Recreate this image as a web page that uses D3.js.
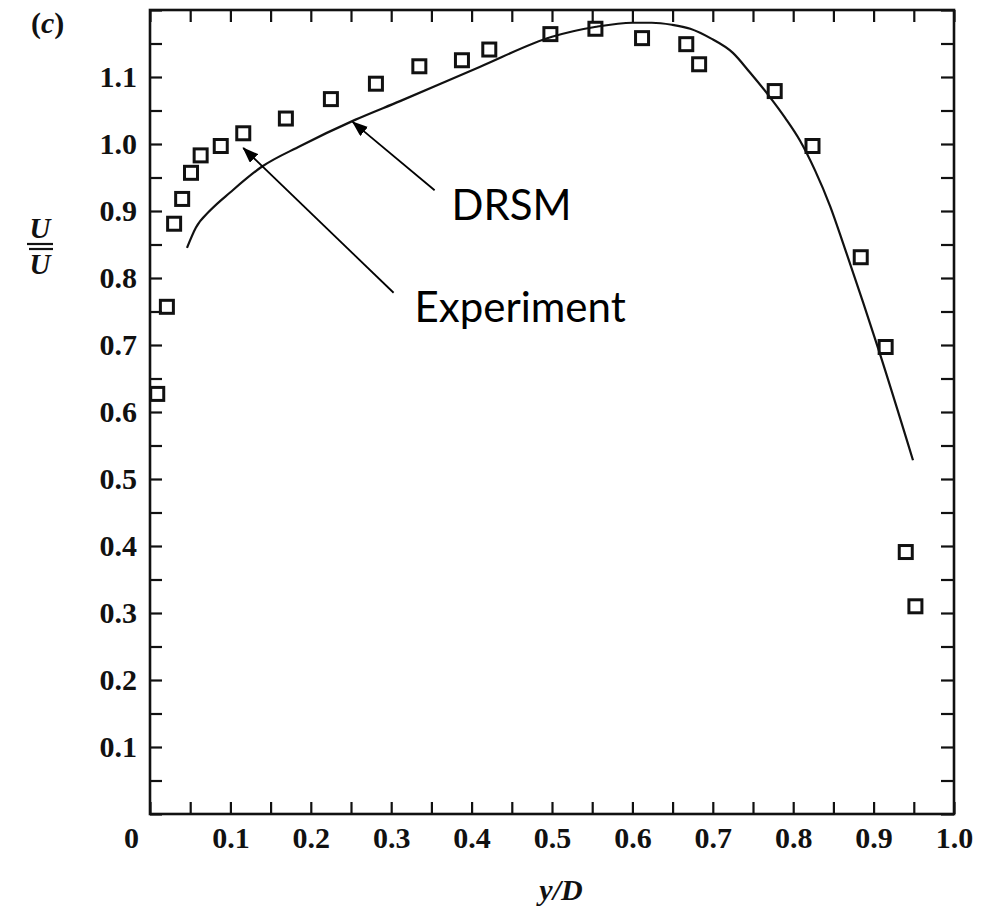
<!DOCTYPE html>
<html>
<head>
<meta charset="utf-8">
<script src="https://cdn.jsdelivr.net/npm/d3@7/dist/d3.min.js"></script>
<style>
  html, body { margin: 0; padding: 0; background: #fff; }
  svg { display: block; }
</style>
</head>
<body>
<svg id="chart" width="994" height="908"></svg>
<script>
// ---- data ----
const expX = [0.009, 0.021, 0.030, 0.040, 0.051, 0.063, 0.088, 0.116, 0.169, 0.225, 0.281, 0.335, 0.388, 0.422, 0.498, 0.554, 0.612, 0.667, 0.683, 0.777, 0.824, 0.884, 0.915, 0.940, 0.952];
const expY = [0.627, 0.757, 0.881, 0.918, 0.957, 0.983, 0.997, 1.016, 1.038, 1.067, 1.090, 1.116, 1.125, 1.141, 1.164, 1.172, 1.158, 1.149, 1.119, 1.079, 0.997, 0.831, 0.697, 0.391, 0.310];

const drsmX = [0.046, 0.057, 0.075, 0.100, 0.139, 0.187, 0.255, 0.311, 0.410, 0.500, 0.555, 0.600, 0.624, 0.649, 0.672, 0.697, 0.725, 0.746, 0.771, 0.790, 0.808, 0.827, 0.846, 0.864, 0.907, 0.949];
const drsmY = [0.845, 0.875, 0.901, 0.928, 0.966, 0.997, 1.036, 1.064, 1.115, 1.160, 1.175, 1.181, 1.181, 1.178, 1.172, 1.158, 1.136, 1.107, 1.070, 1.039, 1.006, 0.961, 0.907, 0.845, 0.690, 0.528];

const xTicks = d3.range(0, 21).map(i => i * 0.05);
const yTicks = d3.range(0, 25).map(i => i * 0.05);
const xLabels = ["0", "0.1", "0.2", "0.3", "0.4", "0.5", "0.6", "0.7", "0.8", "0.9", "1.0"];
const yLabels = ["0.1", "0.2", "0.3", "0.4", "0.5", "0.6", "0.7", "0.8", "0.9", "1.0", "1.1"];

// annotations (data coordinates)
const annNames = ["DRSM", "Experiment"];
const annText = [[0.375, 0.887], [0.329, 0.734]];
const annFrom = [[0.354, 0.931], [0.303, 0.778]];
const annTo = [[0.252, 1.033], [0.116, 0.994]];

(function () {
// ---- layout ----
const mL = 150, mR = 954, mT = 10, mB = 814;
const x = d3.scaleLinear().domain([0, 1]).range([mL, mR]);
const y = d3.scaleLinear().domain([0, 1.2]).range([mB, mT]);

const svg = d3.select("#chart");
const serif = "'Liberation Serif', 'Times New Roman', serif";

const labelIdx = v => Math.round(v * 100);
const fmtX = v => { const k = labelIdx(v); return k % 10 === 0 ? xLabels[k / 10] : ""; };
const fmtY = v => { const k = labelIdx(v); return (k % 10 === 0 && k > 0 && k < 120) ? yLabels[k / 10 - 1] : ""; };

function styleAxis(g) {
  g.select(".domain").remove();
  g.selectAll(".tick line").attr("stroke", "#111").attr("stroke-width", 2.2);
  g.selectAll(".tick text")
    .attr("fill", "#111")
    .style("font-family", serif)
    .style("font-weight", "bold")
    .style("font-size", "30px");
}

// bottom axis
const gB = svg.append("g").attr("transform", `translate(0,${mB})`)
  .call(d3.axisBottom(x).tickValues(xTicks).tickFormat(fmtX).tickSizeInner(-12).tickSizeOuter(0).tickPadding(13));
styleAxis(gB);
gB.selectAll(".tick text").attr("dy", "0.71em");
gB.selectAll(".tick").filter(d => d === 0).select("text").attr("dx", -19);

// left axis
const gL = svg.append("g").attr("transform", `translate(${mL},0)`)
  .call(d3.axisLeft(y).tickValues(yTicks).tickFormat(fmtY).tickSizeInner(-12).tickSizeOuter(0).tickPadding(13));
styleAxis(gL);

// top axis
const gT = svg.append("g").attr("transform", `translate(0,${mT})`)
  .call(d3.axisTop(x).tickValues(xTicks).tickFormat("").tickSizeInner(-12).tickSizeOuter(0));
styleAxis(gT);

// right axis
const gR = svg.append("g").attr("transform", `translate(${mR},0)`)
  .call(d3.axisRight(y).tickValues(yTicks).tickFormat("").tickSizeInner(-13).tickSizeOuter(0));
styleAxis(gR);

// frame
svg.append("rect")
  .attr("x", mL).attr("y", mT)
  .attr("width", mR - mL).attr("height", mB - mT)
  .attr("fill", "none").attr("stroke", "#111").attr("stroke-width", 2.6);

// DRSM curve
const lineData = drsmX.map((d, i) => [d, drsmY[i]]);
svg.append("path")
  .datum(lineData)
  .attr("fill", "none")
  .attr("stroke", "#111")
  .attr("stroke-width", 2.2)
  .attr("d", d3.line().x(d => x(d[0])).y(d => y(d[1])).curve(d3.curveMonotoneX));

// experiment squares
const sz = 13;
svg.append("g").selectAll("rect")
  .data(expX.map((d, i) => [d, expY[i]]))
  .join("rect")
  .attr("x", d => x(d[0]) - sz / 2)
  .attr("y", d => y(d[1]) - sz / 2)
  .attr("width", sz).attr("height", sz)
  .attr("fill", "none")
  .attr("stroke", "#111")
  .attr("stroke-width", 3);

// arrow marker
svg.append("defs").append("marker")
  .attr("id", "arrow")
  .attr("viewBox", "0 0 16 12")
  .attr("refX", 15).attr("refY", 6)
  .attr("markerWidth", 16).attr("markerHeight", 12)
  .attr("markerUnits", "userSpaceOnUse")
  .attr("orient", "auto")
  .append("path").attr("d", "M0,0 L16,6 L0,12 z").attr("fill", "#000");

annNames.forEach((name, i) => {
  svg.append("line")
    .attr("x1", x(annFrom[i][0])).attr("y1", y(annFrom[i][1]))
    .attr("x2", x(annTo[i][0])).attr("y2", y(annTo[i][1]))
    .attr("stroke", "#000").attr("stroke-width", 1.8)
    .attr("marker-end", "url(#arrow)");
  svg.append("text")
    .attr("x", x(annText[i][0])).attr("y", y(annText[i][1]))
    .style("font-family", "Lato, 'Open Sans', sans-serif")
    .style("font-size", "42px")
    .attr("fill", "#000")
    .text(name);
});

// panel label
svg.append("text")
  .attr("x", 31).attr("y", 33)
  .style("font-family", serif).style("font-weight", "bold").style("font-size", "30px")
  .attr("fill", "#111")
  .html("(<tspan font-style='italic'>c</tspan>)");

// y-axis label: U over U-bar
const yl = svg.append("g").attr("fill", "#111");
yl.append("text").attr("x", 40).attr("y", 238).attr("text-anchor", "middle")
  .style("font-family", serif).style("font-weight", "bold").style("font-style", "italic").style("font-size", "29px")
  .text("U");
yl.append("line").attr("x1", 27).attr("x2", 53).attr("y1", 244).attr("y2", 244).attr("stroke", "#111").attr("stroke-width", 2.2);
yl.append("line").attr("x1", 29).attr("x2", 53).attr("y1", 249).attr("y2", 249).attr("stroke", "#111").attr("stroke-width", 2.2);
yl.append("text").attr("x", 40).attr("y", 274).attr("text-anchor", "middle")
  .style("font-family", serif).style("font-weight", "bold").style("font-style", "italic").style("font-size", "29px")
  .text("U");

// x-axis label
svg.append("text")
  .attr("x", 561).attr("y", 900).attr("text-anchor", "middle")
  .style("font-family", serif).style("font-style", "italic").style("font-weight", "bold").style("font-size", "30px")
  .attr("fill", "#111")
  .text("y/D");
})();
</script>
</body>
</html>
